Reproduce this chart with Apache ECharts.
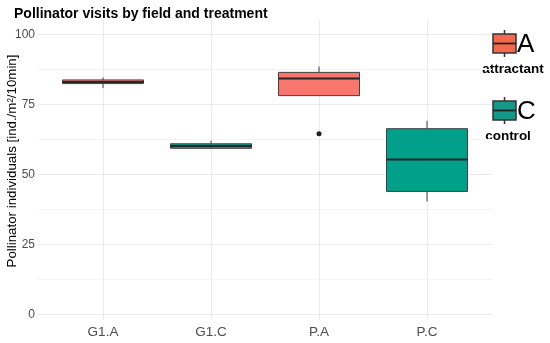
<!DOCTYPE html>
<html>
<head>
<meta charset="utf-8">
<script src="https://cdn.jsdelivr.net/npm/echarts@6/dist/echarts.min.js"></script>
<style>html,body{margin:0;padding:0;background:#fff}#c{width:550px;height:343px}</style>
</head>
<body>
<div id="c"></div>
<script>
const categories = ['G1.A', 'G1.C', 'P.A', 'P.C'];
const treatment = ['A', 'C', 'A', 'C'];
const whiskerLow = [80.7, 58.9, 78.0, 40.2];
const q1 = [82.3, 59.2, 78.0, 43.8];
const median = [82.9, 60.0, 84.1, 55.2];
const q3 = [83.6, 60.8, 86.3, 66.2];
const whiskerHigh = [84.5, 61.9, 88.4, 69.0];
const outliers = [['P.A', 64.4]];
const yTicks = [0, 25, 50, 75, 100];

const FONT = "'Liberation Sans', Arial, sans-serif";
const fillColor = { A: '#F8766D', C: '#00A08A' };
const legendColor = { A: '#F4694D', C: '#12998A' };

const boxData = categories.map((c, i) => [i, whiskerLow[i], q1[i], median[i], q3[i], whiskerHigh[i]]);

function renderBox(params, api) {
  const x = api.value(0);
  const pLow = api.coord([x, api.value(1)]);
  const pQ1 = api.coord([x, api.value(2)]);
  const pMed = api.coord([x, api.value(3)]);
  const pQ3 = api.coord([x, api.value(4)]);
  const pHigh = api.coord([x, api.value(5)]);
  const bw = api.size([1, 0])[0] * 0.75;
  const cx = pMed[0];
  const cs = params.coordSys;
  const t = treatment[params.dataIndex];
  const stroke = '#404040';
  return {
    type: 'group',
    children: [
      { type: 'line', shape: { x1: Math.round(cx) + 0.5, y1: cs.y, x2: Math.round(cx) + 0.5, y2: cs.y + cs.height }, style: { stroke: '#EBEBEB', lineWidth: 1 }, z2: 0 },
      { type: 'line', shape: { x1: cx, y1: pHigh[1], x2: cx, y2: pQ3[1] }, style: { stroke: stroke, lineWidth: 1 }, z2: 1 },
      { type: 'line', shape: { x1: cx, y1: pQ1[1], x2: cx, y2: pLow[1] }, style: { stroke: stroke, lineWidth: 1 }, z2: 1 },
      { type: 'rect', shape: { x: cx - bw / 2, y: pQ3[1], width: bw, height: pQ1[1] - pQ3[1] },
        style: { fill: fillColor[t], stroke: stroke, lineWidth: 1 }, z2: 2 },
      { type: 'line', shape: { x1: cx - bw / 2, y1: pMed[1], x2: cx + bw / 2, y2: pMed[1] }, style: { stroke: '#262626', lineWidth: 2 }, z2: 3 }
    ]
  };
}

function legendKey(y, t, label, labelX) {
  const x0 = 493, w = 23, h = 19;
  return {
    type: 'group',
    children: [
      { type: 'line', shape: { x1: x0 + w / 2, y1: y - 4, x2: x0 + w / 2, y2: y + h + 4 }, style: { stroke: '#333', lineWidth: 1.5 } },
      { type: 'rect', shape: { x: x0, y: y, width: w, height: h }, style: { fill: legendColor[t], stroke: '#333', lineWidth: 1.5 } },
      { type: 'line', shape: { x1: x0, y1: y + h / 2, x2: x0 + w, y2: y + h / 2 }, style: { stroke: '#222', lineWidth: 1.8 } },
      { type: 'text', x: 517, y: y + h / 2 + 1, style: { text: t, font: '26px ' + FONT, fill: '#000', textVerticalAlign: 'middle', textAlign: 'left' } },
      { type: 'text', x: labelX, y: y + 35, style: { text: label, font: 'bold 13.5px ' + FONT, fill: '#000', textVerticalAlign: 'middle', textAlign: 'center' } }
    ]
  };
}

const chart = echarts.init(document.getElementById('c'), null, { renderer: 'canvas' });
chart.setOption({
  animation: false,
  backgroundColor: '#fff',
  title: {
    text: 'Pollinator visits by field and treatment',
    left: 9, top: 2,
    textStyle: { fontFamily: FONT, fontSize: 14, fontWeight: 'bold', color: '#000' }
  },
  grid: [
    { left: 38, right: 58, top: 34.3, bottom: 343 - 314.3, containLabel: false },
    { left: 49, right: 69, top: 20, bottom: 23, containLabel: false }
  ],
  xAxis: [
    { type: 'value', gridIndex: 0, show: false, min: 0, max: 1 },
    {
      type: 'category', gridIndex: 1, data: categories,
      axisLine: { show: false }, axisTick: { show: false }, splitLine: { show: false },
      axisLabel: { fontFamily: FONT, fontSize: 13.5, color: '#4D4D4D', margin: 5 }
    }
  ],
  yAxis: [
    {
      type: 'value', gridIndex: 0, min: 0, max: 100, interval: 12.5,
      axisLine: { show: false }, axisTick: { show: false },
      axisLabel: {
        fontFamily: FONT, fontSize: 12, color: '#4D4D4D', margin: 3,
        formatter: v => (yTicks.indexOf(v) >= 0 ? String(v) : '')
      },
      splitLine: { show: true, lineStyle: { color: ['#EBEBEB', '#F4F4F4'], width: 1 } }
    },
    { type: 'value', gridIndex: 1, min: -2.1, max: 105, show: false, splitLine: { show: false } }
  ],
  series: [
    {
      type: 'custom', xAxisIndex: 1, yAxisIndex: 1, z: 3, silent: true,
      renderItem: renderBox,
      encode: { x: 0, y: [1, 2, 3, 4, 5] },
      data: boxData
    },
    {
      type: 'scatter', xAxisIndex: 1, yAxisIndex: 1, z: 4, silent: true,
      symbol: 'circle', symbolSize: 5,
      itemStyle: { color: '#1f1f1f', opacity: 1 },
      data: outliers
    }
  ],
  graphic: [
    {
      type: 'text', x: 12, y: 161, rotation: Math.PI / 2,
      style: { text: 'Pollinator individuals [ind./m²/10min]', font: '13.3px ' + FONT, fill: '#000', textAlign: 'center', textVerticalAlign: 'middle' }
    },
    legendKey(34, 'A', 'attractant', 513),
    legendKey(101, 'C', 'control', 508)
  ]
});
</script>
</body>
</html>
